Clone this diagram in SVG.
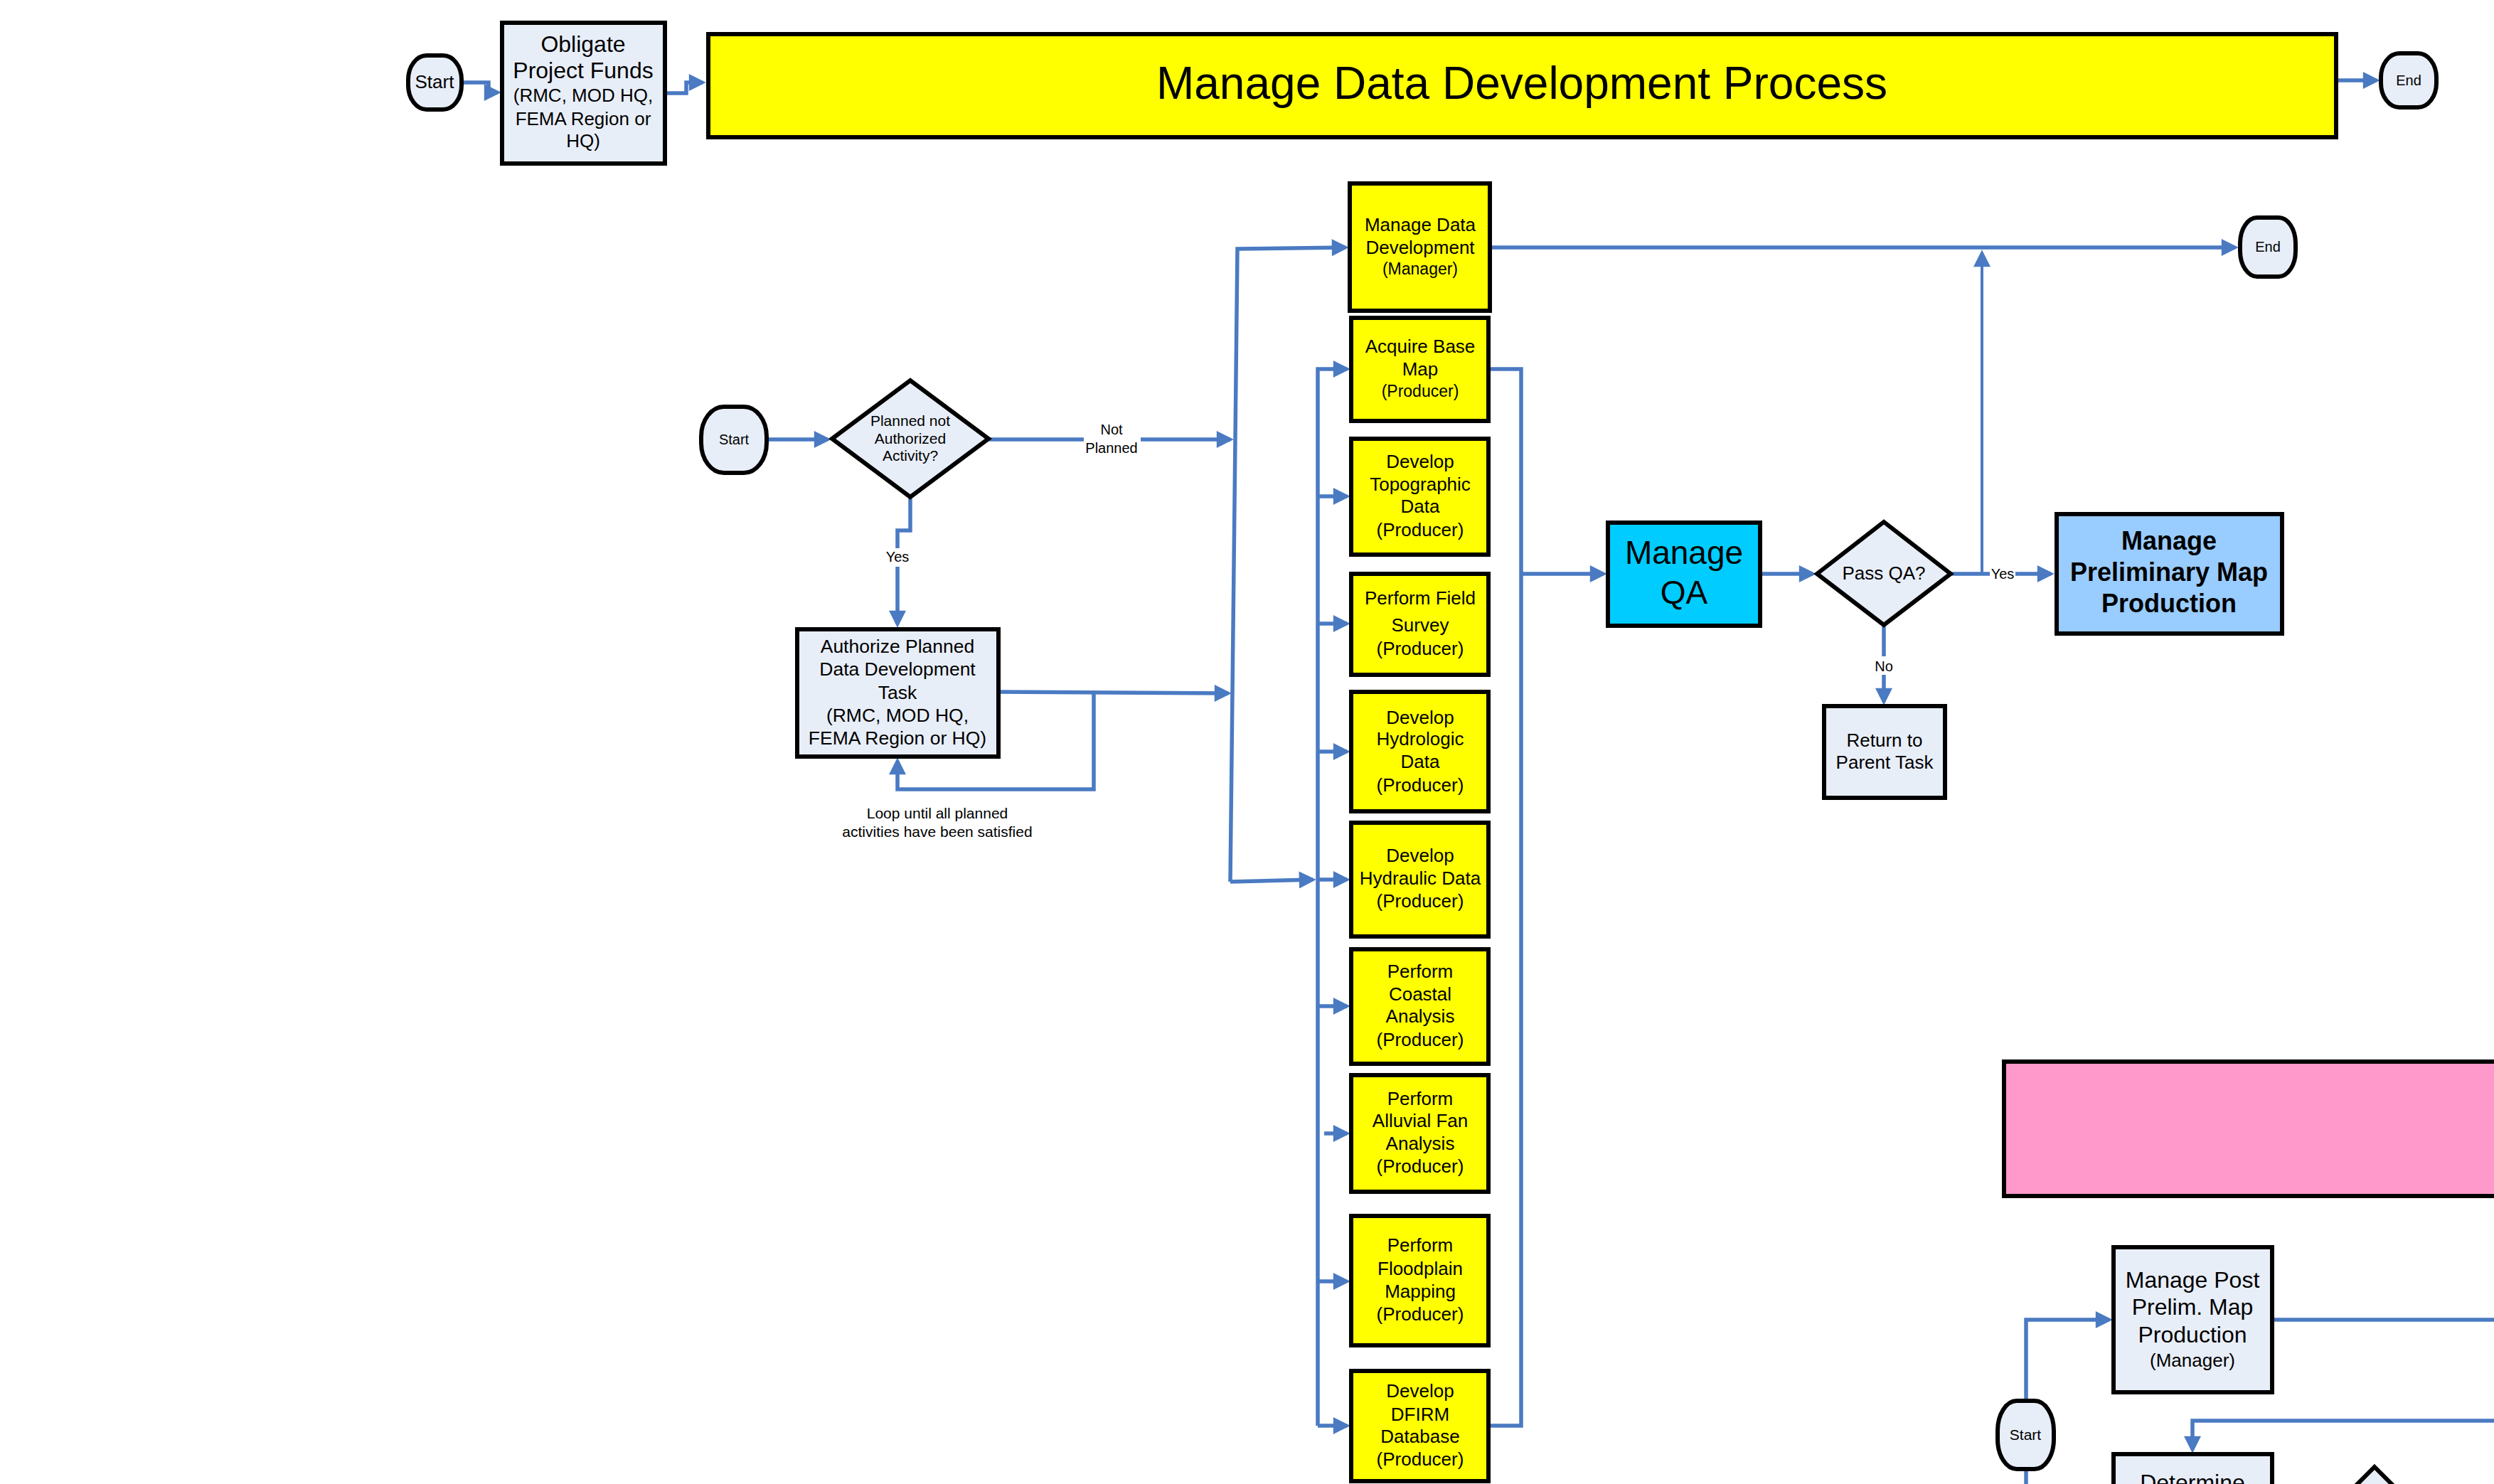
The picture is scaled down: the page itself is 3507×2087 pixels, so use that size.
<svg xmlns="http://www.w3.org/2000/svg" width="3507" height="2087" viewBox="0 0 3507 2087">
<style>
.box{fill:#E8EEF8;stroke:#000;stroke-width:6}
.yel{fill:#FFFF00;stroke:#000;stroke-width:6}
.t{font-family:"Liberation Sans",Arial,sans-serif;text-anchor:middle;fill:#000}
.c{fill:none;stroke:#4A7AC2;stroke-width:5.5}
.a{marker-end:url(#ah)}
</style>
<defs>
<marker id="ah" viewBox="0 0 10 10" refX="8" refY="5" markerUnits="userSpaceOnUse" markerWidth="32" markerHeight="24" orient="auto"><path d="M0,0 L10,5 L0,10 z" fill="#4A7AC2"/></marker>
</defs>
<rect width="3507" height="2087" fill="#fff"/>

<g id="connectors">
<path class="c a" d="M649,116 H687 V130 H700"/>
<path class="c a" d="M935,131 H965 V116 H988"/>
<path class="c a" d="M3285,113 H3342"/>
<path class="c a" d="M1078,618 H1164"/>
<path class="c" d="M1390,618 H1524"/>
<path class="c a" d="M1604,618 H1730"/>
<path class="c" d="M1280,699 V746 H1262 V771"/>
<path class="c a" d="M1262,797 V878"/>
<path class="c a" d="M1404,973 L1727,975"/>
<path class="c a" d="M1538,974 V1110 H1262 V1070"/>
<path class="c a" d="M1730,1240 L1740,350 L1892,348"/>
<path class="c a" d="M1730,1240 L1846,1237"/>
<path class="c a" d="M1853,2005 V519 H1894"/>
<path class="c a" d="M1853,698 H1894"/>
<path class="c a" d="M1853,877 H1894"/>
<path class="c a" d="M1853,1057 H1894"/>
<path class="c a" d="M1853,1237 H1894"/>
<path class="c a" d="M1853,1415 H1894"/>
<path class="c a" d="M1862,1594 H1894"/>
<path class="c a" d="M1853,1802 H1894"/>
<path class="c a" d="M1853,2005 H1894"/>
<path class="c" d="M2093,519 H2139 V2005 H2093"/>
<path class="c a" d="M2139,807 H2255"/>
<path class="c a" d="M2475,807 H2549"/>
<path class="c" d="M2743,807 H2798"/>
<path class="c a" d="M2834,807 H2884"/>
<path class="c a" style="stroke-width:4" d="M2787,807 V356"/>
<path class="c a" d="M2095,348 H3143"/>
<path class="c" d="M2649,879 V923"/>
<path class="c a" d="M2649,949 V987"/>
<path class="c a" d="M2849,1970 V1856 H2966"/>
<path class="c" d="M3195,1856 H3512"/>
<path class="c" d="M2849,2066 V2092"/>
<path class="c a" d="M3512,1998 H3083 V2039"/>
<text class="t" x="1563" y="611" font-size="20">Not</text>
<text class="t" x="1563" y="637" font-size="20">Planned</text>
<text class="t" x="1262" y="790" font-size="20">Yes</text>
<text class="t" x="1318" y="1151" font-size="21">Loop until all planned</text>
<text class="t" x="1318" y="1177" font-size="21">activities have been satisfied</text>
<text class="t" x="2816" y="814" font-size="20">Yes</text>
<text class="t" x="2649" y="944" font-size="20">No</text>
</g>

<g id="start1">
<rect class="box" x="574" y="78" width="75" height="76" rx="26" ry="34"/>
<text class="t" x="611" y="124" font-size="26">Start</text>
</g>

<g id="obligate">
<rect class="box" x="706" y="32" width="229" height="198"/>
<text class="t" x="820" y="73" font-size="32">Obligate</text>
<text class="t" x="820" y="110" font-size="32">Project Funds</text>
<text class="t" x="820" y="143" font-size="26">(RMC, MOD HQ,</text>
<text class="t" x="820" y="176" font-size="26">FEMA Region or</text>
<text class="t" x="820" y="207" font-size="26">HQ)</text>
</g>

<g id="banner">
<rect class="yel" x="996" y="48" width="2289" height="145"/>
<text class="t" x="2140" y="139" font-size="64">Manage Data Development Process</text>
</g>

<g id="end1">
<rect class="box" x="3348" y="75" width="78" height="76" rx="26" ry="34"/>
<text class="t" x="3387" y="120" font-size="20">End</text>
</g>

<g id="start2">
<rect class="box" x="986" y="572" width="92" height="93" rx="32" ry="42"/>
<text class="t" x="1032" y="625" font-size="20">Start</text>
</g>

<g id="decision-planned">
<polygon class="box" points="1170,617 1280,535 1390,617 1280,699"/>
<text class="t" x="1280" y="599" font-size="21">Planned not</text>
<text class="t" x="1280" y="624" font-size="21">Authorized</text>
<text class="t" x="1280" y="648" font-size="21">Activity?</text>
</g>

<g id="authorize">
<rect class="box" x="1121" y="885" width="283" height="179"/>
<text class="t" x="1262" y="918" font-size="26.5">Authorize Planned</text>
<text class="t" x="1262" y="950" font-size="26.5">Data Development</text>
<text class="t" x="1262" y="983" font-size="26.5">Task</text>
<text class="t" x="1262" y="1015" font-size="26.5">(RMC, MOD HQ,</text>
<text class="t" x="1262" y="1047" font-size="26.5">FEMA Region or HQ)</text>
</g>

<g id="manage-data-dev">
<rect class="yel" x="1898" y="258" width="197" height="179"/>
<text class="t" x="1997" y="325" font-size="26">Manage Data</text>
<text class="t" x="1997" y="357" font-size="26">Development</text>
<text class="t" x="1997" y="386" font-size="23">(Manager)</text>
</g>

<g id="acquire">
<rect class="yel" x="1900" y="447" width="193" height="145"/>
<text class="t" x="1997" y="496" font-size="26">Acquire Base</text>
<text class="t" x="1997" y="528" font-size="26">Map</text>
<text class="t" x="1997" y="558" font-size="23">(Producer)</text>
</g>

<g id="topographic">
<rect class="yel" x="1900" y="617" width="193" height="163"/>
<text class="t" x="1997" y="658" font-size="26">Develop</text>
<text class="t" x="1997" y="690" font-size="26">Topographic</text>
<text class="t" x="1997" y="721" font-size="26">Data</text>
<text class="t" x="1997" y="754" font-size="26">(Producer)</text>
</g>

<g id="field-survey">
<rect class="yel" x="1900" y="807" width="193" height="142"/>
<text class="t" x="1997" y="850" font-size="26">Perform Field</text>
<text class="t" x="1997" y="888" font-size="26">Survey</text>
<text class="t" x="1997" y="921" font-size="26">(Producer)</text>
</g>

<g id="hydrologic">
<rect class="yel" x="1900" y="973" width="193" height="168"/>
<text class="t" x="1997" y="1018" font-size="26">Develop</text>
<text class="t" x="1997" y="1048" font-size="26">Hydrologic</text>
<text class="t" x="1997" y="1080" font-size="26">Data</text>
<text class="t" x="1997" y="1113" font-size="26">(Producer)</text>
</g>

<g id="hydraulic">
<rect class="yel" x="1900" y="1157" width="193" height="160"/>
<text class="t" x="1997" y="1212" font-size="26">Develop</text>
<text class="t" x="1997" y="1244" font-size="26">Hydraulic Data</text>
<text class="t" x="1997" y="1276" font-size="26">(Producer)</text>
</g>

<g id="coastal">
<rect class="yel" x="1900" y="1335" width="193" height="161"/>
<text class="t" x="1997" y="1375" font-size="26">Perform</text>
<text class="t" x="1997" y="1407" font-size="26">Coastal</text>
<text class="t" x="1997" y="1438" font-size="26">Analysis</text>
<text class="t" x="1997" y="1471" font-size="26">(Producer)</text>
</g>

<g id="alluvial">
<rect class="yel" x="1900" y="1512" width="193" height="164"/>
<text class="t" x="1997" y="1554" font-size="26">Perform</text>
<text class="t" x="1997" y="1585" font-size="26">Alluvial Fan</text>
<text class="t" x="1997" y="1617" font-size="26">Analysis</text>
<text class="t" x="1997" y="1649" font-size="26">(Producer)</text>
</g>

<g id="floodplain">
<rect class="yel" x="1900" y="1710" width="193" height="182"/>
<text class="t" x="1997" y="1760" font-size="26">Perform</text>
<text class="t" x="1997" y="1793" font-size="26">Floodplain</text>
<text class="t" x="1997" y="1825" font-size="26">Mapping</text>
<text class="t" x="1997" y="1857" font-size="26">(Producer)</text>
</g>

<g id="dfirm">
<rect class="yel" x="1900" y="1928" width="193" height="155"/>
<text class="t" x="1997" y="1965" font-size="26">Develop</text>
<text class="t" x="1997" y="1998" font-size="26">DFIRM</text>
<text class="t" x="1997" y="2029" font-size="26">Database</text>
<text class="t" x="1997" y="2061" font-size="26">(Producer)</text>
</g>

<g id="manage-qa">
<rect x="2261" y="735" width="214" height="145" fill="#00CCFF" stroke="#000" stroke-width="6"/>
<text class="t" x="2368" y="793" font-size="46">Manage</text>
<text class="t" x="2368" y="849" font-size="46">QA</text>
</g>

<g id="decision-qa">
<polygon class="box" points="2555,807 2649,734 2743,807 2649,879"/>
<text class="t" x="2649" y="815" font-size="26">Pass QA?</text>
</g>

<g id="prelim-map">
<rect x="2892" y="723" width="317" height="168" fill="#99CCFF" stroke="#000" stroke-width="6"/>
<text class="t" x="3050" y="773" font-size="36" font-weight="bold">Manage</text>
<text class="t" x="3050" y="817" font-size="36" font-weight="bold">Preliminary Map</text>
<text class="t" x="3050" y="861" font-size="36" font-weight="bold">Production</text>
</g>

<g id="return-parent">
<rect class="box" x="2565" y="993" width="170" height="129"/>
<text class="t" x="2650" y="1050" font-size="26">Return to</text>
<text class="t" x="2650" y="1081" font-size="26">Parent Task</text>
</g>

<g id="end2">
<rect class="box" x="3150" y="306" width="78" height="83" rx="24" ry="36"/>
<text class="t" x="3189" y="354" font-size="20">End</text>
</g>

<g id="pink-banner">
<rect x="2818" y="1493" width="700" height="189" fill="#FF99CC" stroke="#000" stroke-width="6"/>
</g>

<g id="post-prelim">
<rect class="box" x="2972" y="1754" width="223" height="204"/>
<text class="t" x="3083" y="1811" font-size="32">Manage Post</text>
<text class="t" x="3083" y="1849" font-size="32">Prelim. Map</text>
<text class="t" x="3083" y="1888" font-size="32">Production</text>
<text class="t" x="3083" y="1922" font-size="26">(Manager)</text>
</g>

<g id="start3">
<rect class="box" x="2809" y="1970" width="79" height="96" rx="27" ry="42"/>
<text class="t" x="2848" y="2025" font-size="21">Start</text>
</g>

<g id="determine">
<rect class="box" x="2972" y="2045" width="223" height="80"/>
<text class="t" x="3083" y="2096" font-size="32">Determine</text>
</g>

<g id="decision-3">
<polygon class="box" points="3339,2063 3439,2163 3339,2263 3239,2163"/>
</g>
</svg>
